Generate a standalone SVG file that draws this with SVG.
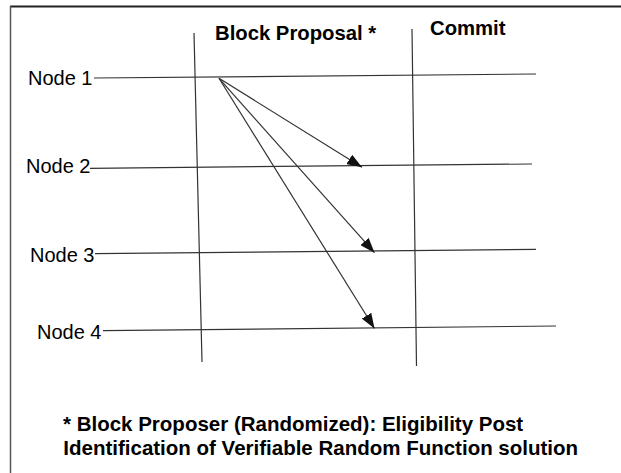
<svg xmlns="http://www.w3.org/2000/svg" width="621" height="473" viewBox="0 0 621 473">
<style>
text{font-family:"Liberation Sans",Arial,sans-serif;fill:#000}
.lbl{font-size:20px}
.hdr{font-size:20.3px;font-weight:bold}
.note{font-size:20.5px;font-weight:bold}
.ln{stroke:#333;stroke-width:1.2;fill:none}
.arr{stroke:#333;stroke-width:1.2;fill:none;marker-end:url(#ah)}
</style>
<defs>
<marker id="ah" markerUnits="userSpaceOnUse" markerWidth="15" markerHeight="11" refX="15" refY="5.5" orient="auto">
<path d="M0,0 L15,5.5 L0,11 z" fill="#111"/>
</marker>
</defs>
<rect width="621" height="473" fill="#fff"/>
<g id="frame">
<line x1="10" y1="6.5" x2="621" y2="6.5" stroke="#222" stroke-width="2"/>
<line x1="10.5" y1="6" x2="10.5" y2="473" stroke="#555" stroke-width="1.5"/>
</g>
<g id="phase-block-proposal">
<text class="hdr" x="215" y="39.5">Block Proposal *</text>
<line class="ln" x1="194" y1="33" x2="202" y2="362"/>
</g>
<g id="phase-commit">
<text class="hdr" x="430" y="35">Commit</text>
<line class="ln" x1="412" y1="29" x2="416.5" y2="366"/>
</g>
<g id="node1">
<text class="lbl" x="28" y="85">Node 1</text>
<line class="ln" x1="94" y1="78" x2="536" y2="74"/>
</g>
<g id="node2">
<text class="lbl" x="26" y="172.5">Node 2</text>
<line class="ln" x1="90" y1="168.3" x2="532" y2="164"/>
</g>
<g id="node3">
<text class="lbl" x="30" y="261.5">Node 3</text>
<line class="ln" x1="95" y1="253.7" x2="536" y2="249.3"/>
</g>
<g id="node4">
<text class="lbl" x="37" y="339">Node 4</text>
<line class="ln" x1="103" y1="330.7" x2="556" y2="326"/>
</g>
<g id="connectors">
<line class="arr" x1="219" y1="78.3" x2="362" y2="167.3"/>
<line class="arr" x1="219" y1="78.3" x2="374.5" y2="252.7"/>
<line class="arr" x1="219" y1="78.3" x2="374.5" y2="328.5"/>
</g>
<g id="footnote">
<text class="note" x="63" y="430.7">* Block Proposer (Randomized): Eligibility Post</text>
<text class="note" x="63.3" y="455">Identification of Verifiable Random Function solution</text>
</g>
</svg>
